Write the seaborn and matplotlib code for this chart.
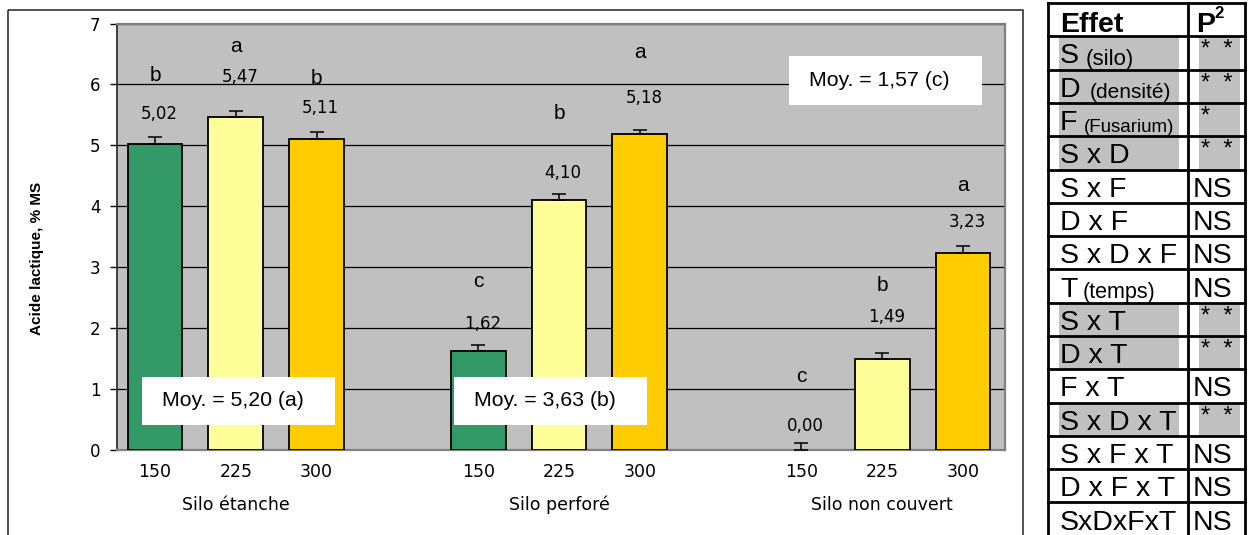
import matplotlib
matplotlib.use("Agg")
import matplotlib.pyplot as plt
from matplotlib.patches import Rectangle
from matplotlib import font_manager
import numpy as np
import pandas as pd
import seaborn as sns

# ---------------- data ----------------
silos = ["Silo étanche", "Silo perforé", "Silo non couvert"]
densities = ["150", "225", "300"]
# lactic acid (% DM), silo-major order: 3 silos x 3 densities
lactic = [5.02, 5.47, 5.11, 1.62, 4.10, 5.18, 0.00, 1.49, 3.23]
sem = [0.11, 0.09, 0.11, 0.10, 0.10, 0.08, 0.11, 0.10, 0.11]
letters = ["b", "a", "b", "c", "b", "a", "c", "b", "a"]
silo_letters = ["a", "b", "c"]

effects = ["S", "D", "F", "S x D", "S x F", "D x F", "S x D x F", "T",
           "S x T", "D x T", "F x T", "S x D x T", "S x F x T", "D x F x T", "SxDxFxT"]
effect_notes = ["(silo)", "(densité)", "(Fusarium)", "", "", "", "", "(temps)",
                "", "", "", "", "", "", ""]
p_values = ["* *", "* *", "*", "* *", "NS", "NS", "NS", "NS",
            "* *", "* *", "NS", "* *", "NS", "NS", "NS"]

# ---------------- layout ----------------
W, H = 1250, 535
GREY = "#C0C0C0"
palette = {"150": "#339966", "225": "#FFFF99", "300": "#FFCC00"}
val_lift = [0.49, 0.66, 0.51, 0.45, 0.45, 0.59, 0.39, 0.69, 0.51]
letter_lift = [0.64, 0.49, 0.48, 0.69, 0.98, 0.76, 0.81, 0.52, 0.60]
mean_boxes = [(-0.16, 0.41), (3.70, 0.41), (7.85, 5.67)]   # lower-left corners
box_w, box_h = 2.39, 0.79

names = {f.name for f in font_manager.fontManager.ttflist}
has_narrow = "Liberation Sans Narrow" in names
narrow = "Liberation Sans Narrow" if has_narrow else "Liberation Sans"
ARIAL = "Liberation Sans"
WIDE = "DejaVu Sans"


def fr(v):
    """French decimal formatting."""
    return f"{v:.2f}".replace(".", ",")


# build the long table with gap slots between silo groups
rows = []
order = []
for gi, silo in enumerate(silos):
    for di, dens in enumerate(densities):
        k = gi * 3 + di
        slot = f"{silo} {dens}"
        order.append(slot)
        rows.append({"slot": slot, "silo": silo, "density": dens, "lactic": lactic[k]})
    if gi < len(silos) - 1:
        order.append(f"gap{gi}")
df = pd.DataFrame(rows)
positions = [order.index(s) for s in df["slot"]]

fig = plt.figure(figsize=(W / 100, H / 100), dpi=100)


def fx(px):
    return px / W


def fy(py):
    return 1 - py / H


ax = fig.add_axes([fx(117), fy(450), fx(1005) - fx(117), fy(23.5) - fy(450)])
ax.set_facecolor(GREY)

sns.barplot(data=df, x="slot", y="lactic", hue="density", order=order,
            hue_order=densities, palette=palette, dodge=False, width=0.68,
            edgecolor="black", linewidth=1.3, errorbar=None, legend=False,
            saturation=1, ax=ax, zorder=3)
# an empty (zero) bar shows no outline
for patch in ax.patches:
    if abs(patch.get_height()) < 1e-9:
        patch.set_edgecolor("none")

ax.errorbar(positions, df["lactic"], yerr=[np.zeros(len(sem)), sem], fmt="none",
            ecolor="black", elinewidth=1.1, capsize=4.7, capthick=1.1, zorder=4)

ax.set_xlim(-0.47, 10.52)
ax.set_ylim(0, 7)
ax.set_yticks(range(8))
ax.yaxis.grid(True, color="black", lw=0.9)
ax.set_axisbelow(True)
for side in ["top", "right", "bottom"]:
    ax.spines[side].set_color("#808080")
    ax.spines[side].set_linewidth(1.6)
ax.spines["left"].set_color("#333333")
ax.spines["left"].set_linewidth(1.3)

ax.tick_params(axis="y", length=5, width=1, color="black", pad=7, labelsize=12)
ax.tick_params(axis="x", length=0, pad=9.5, labelsize=12.5)
for lab in ax.get_yticklabels():
    lab.set_fontfamily(WIDE)
ax.set_xticks(positions)
ax.set_xticklabels([d for d in df["density"]], fontfamily=WIDE)
ax.set_xlabel("")
ax.set_ylabel("Acide lactique, % MS", fontfamily=narrow, fontweight="bold",
              fontsize=13.3 if has_narrow else 11, va="center")
ax.yaxis.set_label_coords(-0.0905, 0.45)

# silo group names under the density ticks
for gi, silo in enumerate(silos):
    ax.text(4 * gi + 1, -0.129, silo, transform=ax.get_xaxis_transform(),
            ha="center", va="center", fontsize=12.5, fontfamily=WIDE)

# value and significance letters above each bar
for k, (pos, v) in enumerate(zip(positions, lactic)):
    yv = v + val_lift[k]
    ax.text(pos + 0.05, yv, fr(v), ha="center", va="center",
            fontsize=12, fontfamily=WIDE, zorder=6)
    ax.text(pos, yv + letter_lift[k], letters[k], ha="center", va="center",
            fontsize=15, fontfamily=ARIAL, zorder=6)

# per-silo means
means = [np.mean(lactic[3 * g:3 * g + 3]) for g in range(len(silos))]
for (bx, by), m, let in zip(mean_boxes, means, silo_letters):
    ax.add_patch(Rectangle((bx, by), box_w, box_h, facecolor="white",
                           edgecolor="none", zorder=7))
    ax.text(bx + 0.25, by + box_h / 2, f"Moy. = {fr(m)} ({let})",
            ha="left", va="center", fontsize=15.3, fontfamily=ARIAL, zorder=8)

# overlay in pixel coordinates: chart frame and effects table
ov = fig.add_axes([0, 0, 1, 1])
ov.set_xlim(0, W)
ov.set_ylim(H, 0)
ov.axis("off")
ov.patch.set_alpha(0)

ov.add_patch(Rectangle((8, 10), 1015, 540, fill=False, edgecolor="#222222", lw=1.1))

tx0, tx1, tx2 = 1048, 1188, 1245
ty0, rh = 3, 33.3
note_sizes = {"(silo)": 16, "(densité)": 15, "(Fusarium)": 13.5, "(temps)": 15.5}
note_x = {"(silo)": 1086, "(densité)": 1090, "(Fusarium)": 1084, "(temps)": 1083}

for i, (eff, note, p) in enumerate(zip(effects, effect_notes, p_values)):
    top = ty0 + rh * (i + 1)
    if p != "NS":
        ov.add_patch(Rectangle((1059, top), 1179 - 1059, rh, facecolor=GREY, lw=0))
        ov.add_patch(Rectangle((1199, top), 1240 - 1199, rh, facecolor=GREY, lw=0))
    base = top + rh / 2 + 10.5
    ov.text(1060, base, eff, fontsize=20.5, fontfamily=ARIAL, va="baseline", ha="left")
    if note:
        ov.text(note_x[note], base + 1.5, note, fontsize=note_sizes[note],
                fontfamily=ARIAL, va="baseline", ha="left")
    if p == "NS":
        ov.text(1193, base, p, fontsize=20.5, fontfamily=ARIAL, va="baseline", ha="left")
    else:
        ov.text(1201, top + 3, p.replace(" ", "  "), fontsize=17, fontfamily=ARIAL,
                va="top", ha="left")

ov.text(1060, 32.5, "Effet", fontsize=20.5, fontweight="bold", fontfamily=ARIAL,
        va="baseline", ha="left")
ov.text(1196, 32.5, "P", fontsize=20.5, fontweight="bold", fontfamily=ARIAL,
        va="baseline", ha="left")
ov.text(1214, 18.5, "2", fontsize=12, fontweight="bold", fontfamily=ARIAL,
        va="baseline", ha="left")

n_lines = len(effects) + 2
for k in range(n_lines):
    y = ty0 + rh * k
    ov.plot([tx0, tx2], [y, y], color="black", lw=2, solid_capstyle="projecting")
for x in (tx0, tx1, tx2):
    ov.plot([x, x], [ty0, H + 5], color="black", lw=2, solid_capstyle="projecting")

fig.savefig("out.png", dpi=100)
